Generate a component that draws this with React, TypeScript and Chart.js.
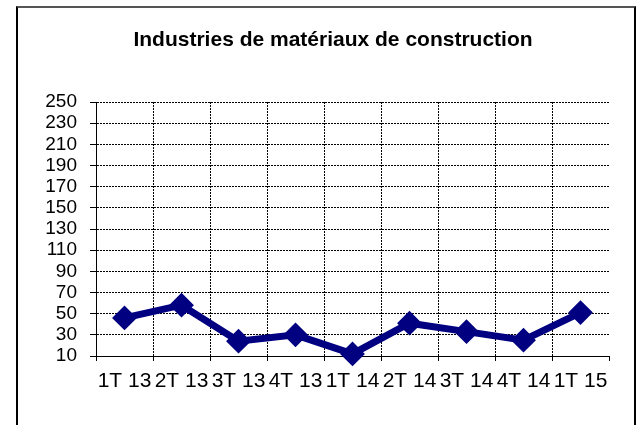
import React, { useEffect, useRef } from "react";
import { Chart, registerables } from "chart.js";

Chart.register(...registerables);

const TITLE = "Industries de matériaux de construction";
const categories = ["1T 13", "2T 13", "3T 13", "4T 13", "1T 14", "2T 14", "3T 14", "4T 14", "1T 15"];
const values = [46, 58, 24, 30, 12, 41, 33, 25, 51];
const yMin = 10;
const yMax = 250;
const yStep = 20;

const FONT = "'Liberation Sans', Arial, sans-serif";

export default function App() {
  const ref = useRef<HTMLCanvasElement>(null);

  useEffect(() => {
    if (!ref.current) return;
    const chart = new Chart(ref.current, {
      type: "line",
      data: {
        labels: categories,
        datasets: [
          {
            data: values,
            borderColor: "#000080",
            backgroundColor: "#000080",
            borderWidth: 7,
            pointStyle: "rectRot",
            pointRadius: 11,
            pointBorderWidth: 2,
            pointBackgroundColor: "#000080",
            pointBorderColor: "#000080",
            tension: 0,
            clip: false as any,
          },
        ],
      },
      options: {
        responsive: false,
        animation: false,
        layout: { padding: { left: 0, right: 33, top: 102, bottom: 0 } },
        plugins: {
          legend: { display: false },
          title: { display: false },
          tooltip: { enabled: false },
        },
        scales: {
          x: {
            type: "category",
            offset: true,
            afterFit: (s: any) => {
              s.height = 69;
            },
            grid: {
              offset: true,
              display: true,
              drawOnChartArea: true,
              drawTicks: true,
              tickLength: 5,
              lineWidth: 1,
              color: (c: any) => (c.type === "tick" ? "#000" : "rgba(0,0,0,0)"),
              tickColor: "#000",
              tickBorderDash: [],
            } as any,
            border: { display: true, color: "#000", width: 1, dash: [2, 1] },
            ticks: {
              color: "#000",
              font: { family: FONT, size: 21 },
              padding: 8,
              maxRotation: 0,
              autoSkip: false,
            },
          },
          y: {
            min: yMin,
            max: yMax,
            afterFit: (s: any) => {
              s.width = 96;
            },
            grid: {
              color: "#000",
              lineWidth: 1,
              tickLength: 6,
              tickColor: "#000",
              tickBorderDash: [],
            } as any,
            border: { display: true, color: "#000", width: 1, dash: [2, 1] },
            ticks: {
              stepSize: yStep,
              autoSkip: false,
              color: "#000",
              font: { family: FONT, size: 19 },
              padding: 13,
            },
          },
        },
      },
      plugins: [
        {
          id: "bgwhite",
          beforeDraw: (c: any) => {
            const ctx = c.ctx;
            ctx.save();
            ctx.fillStyle = "#fff";
            ctx.fillRect(0, 0, c.width, c.height);
            ctx.restore();
          },
        },
      ],
    });
    return () => chart.destroy();
  }, []);

  return (
    <div
      style={{
        position: "absolute",
        left: 0,
        top: 0,
        width: 642,
        height: 425,
        overflow: "hidden",
        background: "#fff",
      }}
    >
      <canvas
        ref={ref}
        width={642}
        height={425}
        style={{ position: "absolute", left: 0, top: 0, width: 642, height: 425 }}
      />
      <div
        style={{
          position: "absolute",
          left: 16,
          top: 6,
          width: 616,
          height: 460,
          borderLeft: "2px solid #000",
          borderRight: "2px solid #000",
          borderTop: "2px solid #555",
          pointerEvents: "none",
        }}
      />
      <div
        style={{
          position: "absolute",
          left: 333,
          top: 28,
          transform: "translateX(-50%)",
          whiteSpace: "nowrap",
          font: `bold 21px ${FONT}`,
          lineHeight: "21px",
          color: "#000",
        }}
      >
        {TITLE}
      </div>
    </div>
  );
}
